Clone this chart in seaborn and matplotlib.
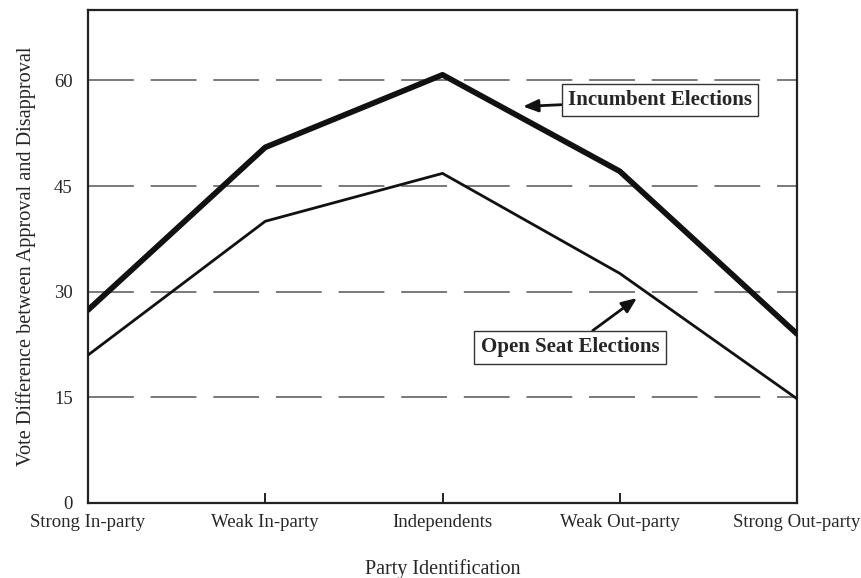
import pandas as pd
import seaborn as sns
import matplotlib.pyplot as plt

# values
party_id = ['Strong In-party', 'Weak In-party', 'Independents', 'Weak Out-party', 'Strong Out-party']
incumbent = [27.4, 50.5, 60.8, 47.1, 24.0]
open_seat = [21.0, 40.0, 46.8, 32.6, 14.8]
y_ticks = [0, 15, 30, 45, 60]

sns.set_theme(style='white')
plt.rcParams['font.family'] = ['Liberation Serif', 'DejaVu Serif']


def main():
    df = pd.DataFrame({
        'party': party_id * 2,
        'value': incumbent + open_seat,
        'series': ['Incumbent Elections'] * 5 + ['Open Seat Elections'] * 5,
    })

    fig = plt.figure(figsize=(8.62, 5.78), dpi=100)
    ax = fig.add_axes([0.1021, 0.1298, 0.8225, 0.8529])

    sns.lineplot(data=df[df['series'] == 'Incumbent Elections'], x='party', y='value',
                 color='#111111', linewidth=4.1, ax=ax, zorder=3, sort=False)
    sns.lineplot(data=df[df['series'] == 'Open Seat Elections'], x='party', y='value',
                 color='#111111', linewidth=2.0, ax=ax, zorder=3, sort=False)

    ax.set_xlim(0, 4)
    ax.set_ylim(0, 70)
    ax.set_yticks(y_ticks)
    ax.set_xticks(range(len(party_id)))
    ax.set_xticklabels(party_id)

    # dashed horizontal guides
    for y in y_ticks[1:]:
        ax.axhline(y, color='#555555', linewidth=1.1, linestyle=(0, (30, 11)), zorder=1)

    for side in ['left', 'right', 'top', 'bottom']:
        ax.spines[side].set_visible(True)
        ax.spines[side].set_color('#222222')
        ax.spines[side].set_linewidth(1.6)

    ax.tick_params(axis='x', direction='in', length=7, width=1.4, color='#222222',
                   labelsize=13.5, pad=8, bottom=True)
    ax.tick_params(axis='y', length=0, labelsize=13.5, pad=11)

    ax.set_xlabel('Party Identification', fontsize=14.5, labelpad=20)
    ax.set_ylabel('Vote Difference between Approval and Disapproval', fontsize=14.6, labelpad=13)

    box = dict(boxstyle='square,pad=0.3', facecolor='white', edgecolor='#333333', linewidth=1.0)
    arrow = dict(arrowstyle='-|>,head_length=0.6,head_width=0.25', color='#111111',
                 linewidth=2.0, shrinkA=0, shrinkB=0)
    ax.annotate('Incumbent Elections', xy=(2.454, 56.3), xytext=(3.227, 57.2),
                fontsize=15, fontweight='bold', ha='center', va='center',
                bbox=box, arrowprops=arrow, zorder=4)
    ax.annotate('Open Seat Elections', xy=(3.097, 29.1), xytext=(2.719, 22.1),
                fontsize=15, fontweight='bold', ha='center', va='center',
                bbox=box, arrowprops=arrow, zorder=4)

    fig.savefig('out.png', dpi=100)
    plt.close(fig)


if __name__ == '__main__':
    main()
